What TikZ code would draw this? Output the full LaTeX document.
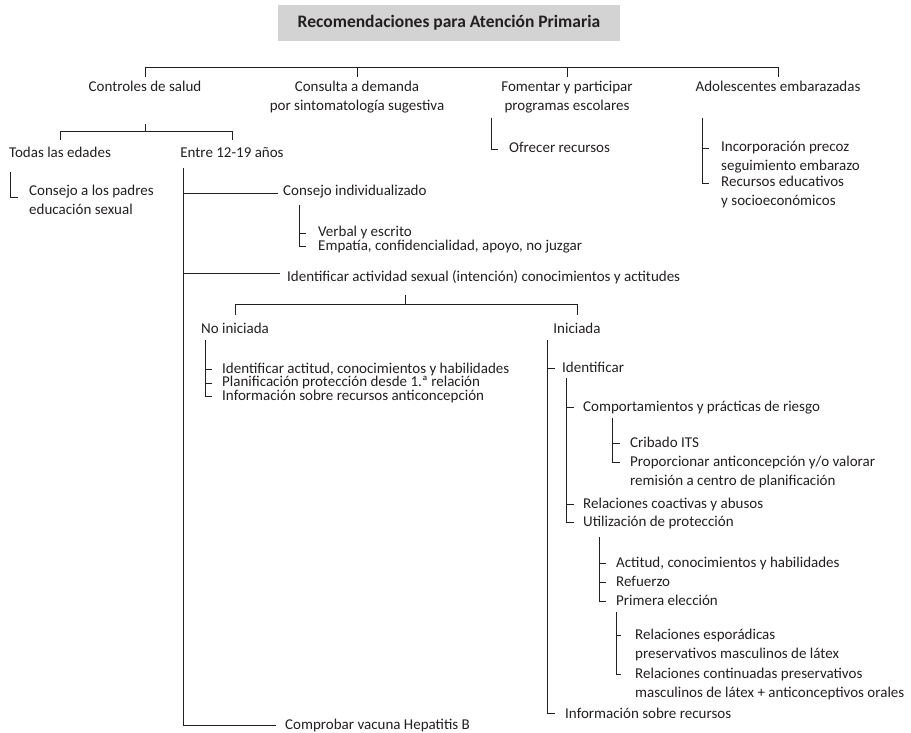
\documentclass[tikz,border=0pt]{standalone}
\usepackage{fontspec}
\setmainfont{Carlito}
\definecolor{ink}{HTML}{231F20}
\definecolor{boxgray}{HTML}{D3D3D4}
\newcommand\fs{\fontsize{15}{19}\selectfont}
\newcommand\twol[2]{\begin{tabular}[t]{@{}l@{}}#1\\#2\end{tabular}}
\newcommand\twoc[2]{\begin{tabular}[t]{@{}c@{}}#1\\#2\end{tabular}}
\begin{document}
\begin{tikzpicture}[x=1pt,y=-1pt,
  tx/.style={inner sep=0pt, text height=10.5pt, text depth=3.5pt, font=\fs, text=ink},
  txs/.style={tx, text height=9pt, text depth=3pt},
  ml/.style={inner sep=0pt, font=\fs, text=ink},
  ln/.style={draw=ink, line width=0.9pt},
  titlebox/.style={fill=boxgray, inner sep=0pt, minimum width=342pt, minimum height=36pt, font=\fontsize{17.5}{20}\selectfont\bfseries, text=ink}]
\useasboundingbox (0,0) rectangle (911,733);

% title
\node[titlebox] (title) at (449,23) {Recomendaciones para Atención Primaria};

% level 1
\node[tx, anchor=base] (c1) at (145,92) {Controles de salud};
\node[ml, anchor=base] (c2) at (357,92) {\twoc{Consulta a demanda}{por sintomatología sugestiva}};
\node[ml, anchor=base] (c3) at (567,92) {\twoc{Fomentar y participar}{programas escolares}};
\node[tx, anchor=base] (c4) at (778,92) {Adolescentes embarazadas};

\coordinate (tb) at (0,67);
\draw[ln] (c1 |- tb) -- (c4 |- tb);
\foreach \n in {c1,c2,c3,c4} \draw[ln] (\n |- tb) -- ++(0,10);

% Controles de salud
\node[tx, anchor=base] (t1) at (60,158) {Todas las edades};
\node[tx, anchor=base] (t2) at (232,158) {Entre 12-19 años};
\coordinate (cbar) at (145,131);
\draw[ln] (cbar) -- ++(0,-7);
\draw[ln] ([yshift=7.5pt]t1.north) -- (t1 |- cbar) -- (t2 |- cbar) -- ([yshift=7.5pt]t2.north);

\node[ml, anchor=base west] (cp) at (29,196) {\twol{Consejo a los padres}{educación sexual}};
\coordinate (sTO) at (10,172);
\draw[ln] (sTO) |- ([xshift=-11pt,yshift=-1pt]cp.base west);

% Entre 12-19
\node[tx, anchor=base west] (ci) at (283,196) {Consejo individualizado};
\node[tx, anchor=base west] (ia) at (287,281) {Identificar actividad sexual (intención) conocimientos y actitudes};
\node[tx, anchor=base west] (cv) at (285,729) {Comprobar vacuna Hepatitis B};
\coordinate (sE) at (183,168);
\draw[ln] (sE) |- ([xshift=-5pt,yshift=-1pt]ci.west);
\draw[ln] (sE) |- ([xshift=-7pt,yshift=4pt]ia.west);
\draw[ln] (sE) |- ([xshift=-9pt]cv.west);

% Consejo individualizado
\node[txs, anchor=base west] (vb) at (318,236.5) {Verbal y escrito};
\node[txs, anchor=base west] (em) at (318,250) {Empatía, confidencialidad, apoyo, no juzgar};
\coordinate (sCI) at (299,205);
\draw[ln] (sCI) |- ([xshift=-12pt,yshift=0.5pt]vb.west);
\draw[ln] (sCI) |- ([xshift=-12pt,yshift=1pt]em.west);

% Identificar actividad sexual
\node[tx, anchor=base] (ni) at (235,333) {No iniciada};
\node[tx, anchor=base] (in) at (577,333) {Iniciada};
\coordinate (iab) at (405,304);
\draw[ln] (iab) -- ++(0,-9);
\draw[ln] ([yshift=7.5pt]ni.north) -- (ni |- iab) -- (in |- iab) -- ([yshift=7.5pt]in.north);

% No iniciada
\node[txs, anchor=base west] (n1) at (222,373) {Identificar actitud, conocimientos y habilidades};
\node[txs, anchor=base west] (n2) at (222,386.5) {Planificación protección desde 1.ª relación};
\node[txs, anchor=base west] (n3) at (222,400) {Información sobre recursos anticoncepción};
\coordinate (sNI) at (205,340);
\foreach \n in {n1,n2,n3} \draw[ln] (sNI) |- ([xshift=-10pt,yshift=0.5pt]\n.west);

% Iniciada
\node[tx, anchor=base west] (idf) at (562,372) {Identificar};
\node[tx, anchor=base west] (inr) at (565,718) {Información sobre recursos};
\coordinate (sIN) at (547,340);
\draw[ln] (sIN) |- ([xshift=-7pt]idf.west);
\draw[ln] (sIN) |- ([xshift=-10pt,yshift=1pt]inr.west);

% Identificar
\node[tx, anchor=base west] (cpr) at (583,411) {Comportamientos y prácticas de riesgo};
\node[tx, anchor=base west] (rca) at (583,508) {Relaciones coactivas y abusos};
\node[tx, anchor=base west] (utp) at (583,526) {Utilización de protección};
\coordinate (sID) at (566,378);
\foreach \n in {cpr,rca,utp} \draw[ln] (sID) |- ([xshift=-9pt]\n.west);

% Comportamientos
\node[tx, anchor=base west] (cri) at (630,447) {Cribado ITS};
\node[ml, anchor=base west] (pro) at (630,466) {\twol{Proporcionar anticoncepción y/o valorar}{remisión a centro de planificación}};
\coordinate (sCP) at (612,418);
\draw[ln] (sCP) |- ([xshift=-10pt]cri.west);
\draw[ln] (sCP) |- ([xshift=-10pt,yshift=4pt]pro.base west);

% Utilizacion de proteccion
\node[tx, anchor=base west] (act) at (616,567) {Actitud, conocimientos y habilidades};
\node[tx, anchor=base west] (ref) at (616,586) {Refuerzo};
\node[tx, anchor=base west] (pel) at (616,605) {Primera elección};
\coordinate (sUT) at (599,537);
\foreach \n in {act,ref,pel} \draw[ln] (sUT) |- ([xshift=-10pt]\n.west);

% Primera eleccion
\node[ml, anchor=base west] (res) at (635,639) {\twol{Relaciones esporádicas}{preservativos masculinos de látex}};
\node[ml, anchor=base west] (rco) at (635,678) {\twol{Relaciones continuadas preservativos}{masculinos de látex + anticonceptivos orales}};
\coordinate (sPE) at (616,612);
\draw[ln] (sPE) |- ([xshift=-14pt,yshift=4pt]res.base west);
\draw[ln] (sPE) |- ([xshift=-14pt,yshift=4pt]rco.base west);

% Fomentar
\node[tx, anchor=base west] (ofr) at (509,153) {Ofrecer recursos};
\coordinate (sFO) at (491,118);
\draw[ln] (sFO) |- ([xshift=-11pt]ofr.west);

% Adolescentes
\node[ml, anchor=base west] (ip) at (721,152) {\twol{Incorporación precoz}{seguimiento embarazo}};
\node[ml, anchor=base west] (re) at (721,187) {\twol{Recursos educativos}{y socioeconómicos}};
\coordinate (sAD) at (702,118);
\draw[ln] (sAD) |- ([xshift=-12pt,yshift=4pt]ip.base west);
\draw[ln] (sAD) |- ([xshift=-12pt,yshift=4pt]re.base west);
\end{tikzpicture}
\end{document}
